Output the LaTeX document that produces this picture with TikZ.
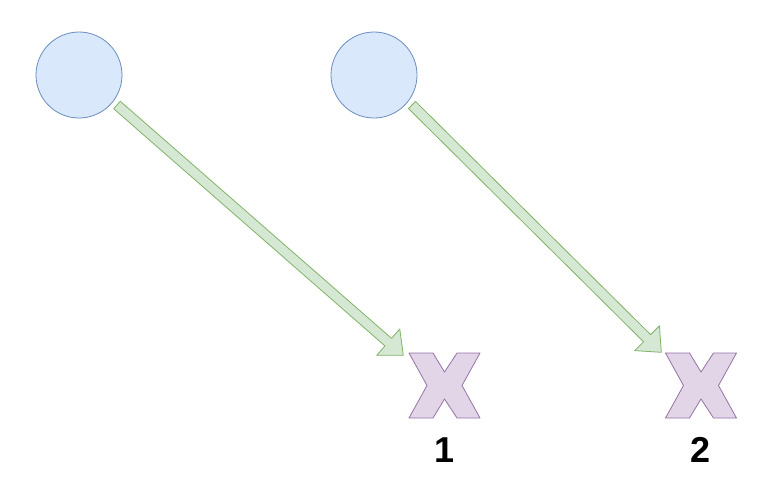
\documentclass[tikz,border=0pt]{standalone}
\usepackage{fontspec}
\setmainfont{Liberation Sans}
\usetikzlibrary{calc}
\definecolor{cfill}{HTML}{DAE8FC}
\definecolor{cline}{HTML}{6C8EBF}
\definecolor{afill}{HTML}{D5E8D4}
\definecolor{aline}{HTML}{82B366}
\definecolor{xfill}{HTML}{E1D5E7}
\definecolor{xline}{HTML}{9673A6}
\tikzset{
  dot/.style={circle, draw=cline, fill=cfill, line width=0.8pt, minimum size=86pt, inner sep=0pt},
  xbox/.style={rectangle, minimum width=71pt, minimum height=65pt, inner sep=0pt},
  xmark/.style={draw=xline, fill=xfill, line width=0.8pt, line join=round},
  fatarrow/.style={draw=aline, fill=afill, line width=0.8pt, line join=round},
  lbl/.style={font=\bfseries\fontsize{36}{36}\selectfont, inner sep=0pt}
}
\newcommand{\drawxmark}[1]{%
  \path[xmark] ($(#1.center)+(-35.5,-32.5)$) -- ($(#1.center)+(-11.5,-32.5)$) -- ($(#1.center)+(0,-13.5)$)
    -- ($(#1.center)+(12.5,-32.5)$) -- ($(#1.center)+(35.5,-32.5)$)
    -- ($(#1.center)+(17.5,0)$) -- ($(#1.center)+(35.5,32.5)$)
    -- ($(#1.center)+(12.5,32.5)$) -- ($(#1.center)+(0,13.5)$)
    -- ($(#1.center)+(-11.5,32.5)$) -- ($(#1.center)+(-35.5,32.5)$)
    -- ($(#1.center)+(-17.5,0)$) -- cycle;}
\newcommand{\drawfatarrow}[2]{%
  \coordinate (#1base) at ($(#2)!20pt!(#1)$);
  \path[fatarrow] ($(#1)!5pt!90:(#2)$) -- ($(#1base)!5pt!90:(#2)$)
    -- ($(#1base)!17.5pt!90:(#2)$) -- (#2)
    -- ($(#1base)!17.5pt!-90:(#2)$) -- ($(#1base)!5pt!-90:(#2)$)
    -- ($(#1)!5pt!-90:(#2)$) -- cycle;}
\begin{document}
\begin{tikzpicture}[x=1pt,y=-1pt]
\useasboundingbox[fill=white] (0,0) rectangle (764,491);
\node[dot] (c1) at (79,75) {};
\node[dot] (c2) at (374,75) {};
\node[xbox] (x1) at (444.5,385.5) {};
\node[xbox] (x2) at (701,385.5) {};
\drawxmark{x1}
\drawxmark{x2}
\node[lbl] (l1) at (445,450) {1};
\node[lbl] (l2) at (701,450) {2};
\coordinate (t1) at ($(c1.center)+(38,30)$);
\coordinate (p1) at ($(x1.north west)+(-5.5,2.5)$);
\coordinate (t2) at ($(c2.center)+(38,30)$);
\coordinate (p2) at ($(x2.north west)+(-4,-0.5)$);
\drawfatarrow{t1}{p1}
\drawfatarrow{t2}{p2}
\end{tikzpicture}
\end{document}
